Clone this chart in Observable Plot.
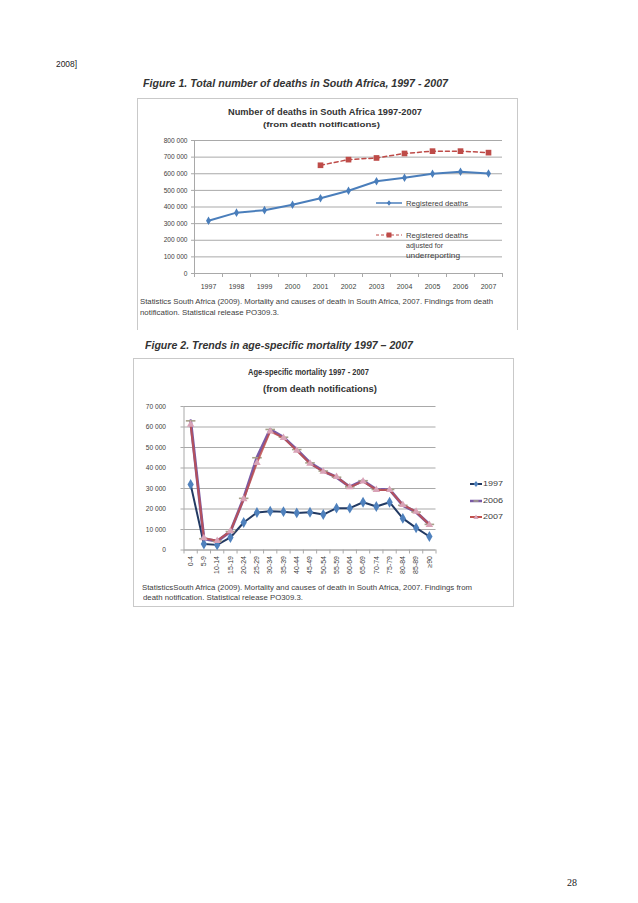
<!DOCTYPE html>
<html><head><meta charset="utf-8">
<script src="https://cdn.jsdelivr.net/npm/d3@7"></script>
<script src="https://cdn.jsdelivr.net/npm/@observablehq/plot@0.6"></script>
<style>
html,body{margin:0;padding:0;background:#fff;}
#page{position:relative;width:638px;height:903px;overflow:hidden;font-family:"Liberation Sans",Arial,sans-serif;color:#404040;}
.abs{position:absolute;white-space:nowrap;line-height:1;}
.box{position:absolute;border:1px solid #c9c9c9;box-sizing:border-box;}
.chart{position:absolute;}
.chart svg{overflow:visible;}
</style></head><body><div id="page"></div>
<script>
// ---------- data ----------
const years = [1997, 1998, 1999, 2000, 2001, 2002, 2003, 2004, 2005, 2006, 2007];
const registeredDeaths = [317000, 366000, 381000, 414000, 453000, 498000, 555000, 576000, 600000, 612000, 602000];
const adjustedYears = [2001, 2002, 2003, 2004, 2005, 2006, 2007];
const adjustedDeaths = [651000, 685000, 695000, 722000, 736000, 736000, 727000];
const deathTicks = [0, 100000, 200000, 300000, 400000, 500000, 600000, 700000, 800000];

const ageGroups = ["0-4","5-9","10-14","15-19","20-24","25-29","30-34","35-39","40-44","45-49","50-54","55-59","60-64","65-69","70-74","75-79","80-84","85-89","≥90"];
const mortality1997 = [32000, 2900, 2500, 6100, 13400, 18300, 18900, 18700, 18100, 18400, 17300, 20400, 20400, 23300, 21200, 23300, 15400, 10800, 6600];
const mortality2006 = [63000, 5500, 4300, 9000, 25200, 45000, 58800, 55000, 49000, 42500, 38500, 35500, 30800, 33800, 29500, 29500, 21800, 18500, 12500];
const mortality2007 = [61200, 5800, 4500, 9200, 24800, 42500, 57900, 54700, 48500, 42200, 38300, 35700, 30700, 33500, 29300, 29300, 22000, 18700, 12300];
const mortalityTicks = [0, 10000, 20000, 30000, 40000, 50000, 60000, 70000];

// ---------- helpers ----------
const page = document.getElementById("page");
const fmt = n => d3.format(",")(n).replace(/,/g, " ");
function txt(s, o) {
  const d = document.createElement("div");
  d.className = "abs";
  d.textContent = s;
  const fs = o.fs || 7;
  d.style.fontSize = fs + "px";
  d.style.top = (o.y - fs / 2) + "px";
  if (o.bold) d.style.fontWeight = "bold";
  if (o.italic) d.style.fontStyle = "italic";
  if (o.color) d.style.color = o.color;
  if (o.family) d.style.fontFamily = o.family;
  page.appendChild(d);
  const w = d.getBoundingClientRect().width;
  let sx = 1;
  if (o.w) sx = o.w / w;
  const realW = w * sx;
  let left = o.x;
  if (o.cx !== undefined) left = o.cx - realW / 2;
  d.style.left = left + "px";
  d.style.transformOrigin = "0 50%";
  d.style.transform = "scaleX(" + sx + ")";
  return d;
}
function box(x, y, w, h, noBottom) {
  const b = document.createElement("div");
  b.className = "box";
  Object.assign(b.style, {left: x + "px", top: y + "px", width: w + "px", height: h + "px"});
  if (noBottom) b.style.borderBottom = "none";
  page.appendChild(b);
}
function place(svg, x, y) {
  const c = document.createElement("div");
  c.className = "chart";
  c.style.left = x + "px"; c.style.top = y + "px";
  c.appendChild(svg);
  page.appendChild(c);
}
function legendSample(x, y, w, stroke, sw, dash, symbolSvg) {
  const ns = "http://www.w3.org/2000/svg";
  const s = document.createElementNS(ns, "svg");
  s.setAttribute("width", w); s.setAttribute("height", 10);
  s.style.position = "absolute"; s.style.left = x + "px"; s.style.top = (y - 5) + "px";
  s.innerHTML = `<line x1="0" y1="5" x2="${w}" y2="5" stroke="${stroke}" stroke-width="${sw}" ${dash ? `stroke-dasharray="${dash}"` : ""}/>` + symbolSvg(w / 2, 5);
  page.appendChild(s);
}

// ---------- page text ----------
txt("2008]", {x: 56, y: 64, fs: 9, w: 21, color: "#222"});
txt("Figure 1. Total number of deaths in South Africa, 1997 - 2007", {x: 143, y: 83, fs: 11, bold: true, italic: true, w: 305, color: "#333"});
txt("Figure 2. Trends in age-specific mortality 1997 – 2007", {x: 145, y: 345, fs: 11, bold: true, italic: true, w: 268, color: "#333"});
txt("28", {x: 567, y: 883, fs: 10, family: "Liberation Serif, serif", color: "#222"});

// ---------- Figure 1 ----------
box(137, 98, 381, 232, true);
txt("Number of deaths in South Africa  1997-2007", {cx: 325, y: 112, fs: 9, bold: true, w: 194, color: "#333"});
txt("(from death notifications)", {cx: 321, y: 125, fs: 8, bold: true, w: 117, color: "#333"});

const yearEdges = years.map(y => y - 0.5).concat([years[years.length - 1] + 0.5]);
const fig1 = Plot.plot({
  width: 380, height: 229,
  marginLeft: 57, marginRight: 15, marginTop: 41, marginBottom: 55,
  style: {background: "transparent", fontFamily: "Liberation Sans, Arial, sans-serif", fontSize: "6.6px", color: "#404040"},
  x: {domain: [yearEdges[0], yearEdges[yearEdges.length - 1]]},
  y: {domain: [0, 800000]},
  marks: [
    Plot.gridY(deathTicks, {stroke: "#a9a9a9", strokeOpacity: 1, strokeWidth: 1}),
    Plot.axisY(deathTicks, {tickFormat: fmt, tickSize: 3, tickPadding: 4, stroke: "#a9a9a9", label: null}),
    Plot.ruleX([yearEdges[0]], {stroke: "#a9a9a9"}),
    Plot.ruleY([0], {stroke: "#a9a9a9"}),
    Plot.axisX(yearEdges, {tickSize: 4, tickFormat: () => "", stroke: "#a9a9a9", label: null}),
    Plot.axisX(years, {tickSize: 0, tickPadding: 11, tickFormat: d => String(d), fontSize: 7, label: null}),
    Plot.line(adjustedYears.map((y, i) => ({year: y, v: adjustedDeaths[i]})), {x: "year", y: "v", stroke: "#be4b48", strokeWidth: 1.5, strokeDasharray: "4,3"}),
    Plot.dot(adjustedYears.map((y, i) => ({year: y, v: adjustedDeaths[i]})), {x: "year", y: "v", symbol: "square", r: 3.2, fill: "#be4b48", stroke: "none"}),
    Plot.line(years.map((y, i) => ({year: y, v: registeredDeaths[i]})), {x: "year", y: "v", stroke: "#4a7ebb", strokeWidth: 2}),
    Plot.dot(years.map((y, i) => ({year: y, v: registeredDeaths[i]})), {x: "year", y: "v", symbol: "diamond", r: 2.6, fill: "#4a7ebb", stroke: "none"})
  ]
});
place(fig1, 137, 99);

legendSample(376, 203, 26, "#4a7ebb", 1.5, null, (cx, cy) => `<path d="M${cx},${cy - 2.8}L${cx + 2.2},${cy}L${cx},${cy + 2.8}L${cx - 2.2},${cy}Z" fill="#4a7ebb"/>`);
txt("Registered deaths", {x: 406, y: 203, fs: 7, w: 62});
legendSample(376, 235, 26, "#be4b48", 1, "3,2", (cx, cy) => `<rect x="${cx - 2.5}" y="${cy - 2.5}" width="5" height="5" fill="#be4b48"/>`);
txt("Registered deaths", {x: 406, y: 235, fs: 7, w: 62});
txt("adjusted for", {x: 406, y: 245, fs: 7, w: 37});
txt("underreporting", {x: 406, y: 255, fs: 7, w: 54});

txt("Statistics South Africa (2009). Mortality and causes of death in South Africa, 2007. Findings from death", {x: 140, y: 301, fs: 7, w: 353});
txt("notification. Statistical release PO309.3.", {x: 140, y: 312.5, fs: 7, w: 139});

// ---------- Figure 2 ----------
box(133, 358, 381, 249);
txt("Age-specific mortality 1997 - 2007", {cx: 308, y: 372, fs: 8.5, bold: true, w: 121, color: "#333"});
txt("(from death notifications)", {cx: 320, y: 389, fs: 8.5, bold: true, w: 114, color: "#333"});

const ageIdx = ageGroups.map((g, i) => i);
const ageEdges = ageIdx.map(i => i - 0.5).concat([ageIdx.length - 0.5]);
const rows = ageGroups.map((g, i) => ({i, g, a: mortality1997[i], b: mortality2006[i], c: mortality2007[i]}));
const dashSymbol = {draw(ctx, size) { const w = Math.sqrt(size) * 0.9; ctx.moveTo(-w, 0); ctx.lineTo(w, 0); }};

const fig2 = Plot.plot({
  width: 380, height: 249,
  marginLeft: 50.5, marginRight: 77.5, marginTop: 49, marginBottom: 56.5,
  style: {background: "transparent", fontFamily: "Liberation Sans, Arial, sans-serif", fontSize: "6.6px", color: "#404040"},
  x: {domain: [ageEdges[0], ageEdges[ageEdges.length - 1]]},
  y: {domain: [0, 70000]},
  marks: [
    Plot.gridY(mortalityTicks, {stroke: "#a9a9a9", strokeOpacity: 1, strokeWidth: 1}),
    Plot.axisY(mortalityTicks, {tickFormat: fmt, tickSize: 3, tickPadding: 15, stroke: "#a9a9a9", label: null}),
    Plot.ruleX([ageEdges[0]], {stroke: "#a9a9a9"}),
    Plot.ruleY([0], {stroke: "#a9a9a9"}),
    Plot.axisX(ageEdges, {tickSize: 4, tickFormat: () => "", stroke: "#a9a9a9", label: null}),
    Plot.axisX(ageIdx, {tickSize: 0, tickPadding: 6, tickRotate: -90, tickFormat: i => ageGroups[i], fontSize: 7, label: null}),
    Plot.line(rows, {x: "i", y: "a", stroke: "#223a63", strokeWidth: 2}),
    Plot.dot(rows, {x: "i", y: "a", symbol: "diamond", r: 3.3, fill: "#4f81bd", stroke: "none"}),
    Plot.line(rows, {x: "i", y: "b", stroke: "#7a5aa6", strokeWidth: 3}),
    Plot.dot(rows, {x: "i", y: "b", symbol: dashSymbol, r: 3, fill: "none", stroke: "#a6a089", strokeWidth: 1.6}),
    Plot.line(rows, {x: "i", y: "c", stroke: "#c0504d", strokeWidth: 2, strokeOpacity: 0.85}),
    Plot.dot(rows, {x: "i", y: "c", symbol: "triangle", r: 2.8, fill: "#d9a3b7", stroke: "none"})
  ]
});
place(fig2, 133, 357);

legendSample(470, 484, 12, "#223a63", 2, null, (cx, cy) => `<path d="M${cx},${cy - 3}L${cx + 2.4},${cy}L${cx},${cy + 3}L${cx - 2.4},${cy}Z" fill="#4f81bd"/>`);
txt("1997", {x: 483, y: 484, fs: 7.5, w: 20});
legendSample(470, 501, 12, "#7a5aa6", 2.5, null, (cx, cy) => `<line x1="${cx - 2.5}" y1="${cy}" x2="${cx + 2.5}" y2="${cy}" stroke="#a6a089" stroke-width="1.5"/>`);
txt("2006", {x: 483, y: 501, fs: 7.5, w: 20});
legendSample(470, 517, 12, "#c0504d", 2, null, (cx, cy) => `<path d="M${cx},${cy - 2.6}L${cx + 2.6},${cy + 2}L${cx - 2.6},${cy + 2}Z" fill="#d9a3b7"/>`);
txt("2007", {x: 483, y: 517, fs: 7.5, w: 20});

txt("StatisticsSouth Africa (2009). Mortality and causes of death in South Africa, 2007. Findings from", {x: 142, y: 587, fs: 7, w: 330});
txt("death notification. Statistical release PO309.3.", {x: 143, y: 597.5, fs: 7, w: 160});
</script>
</body></html>
